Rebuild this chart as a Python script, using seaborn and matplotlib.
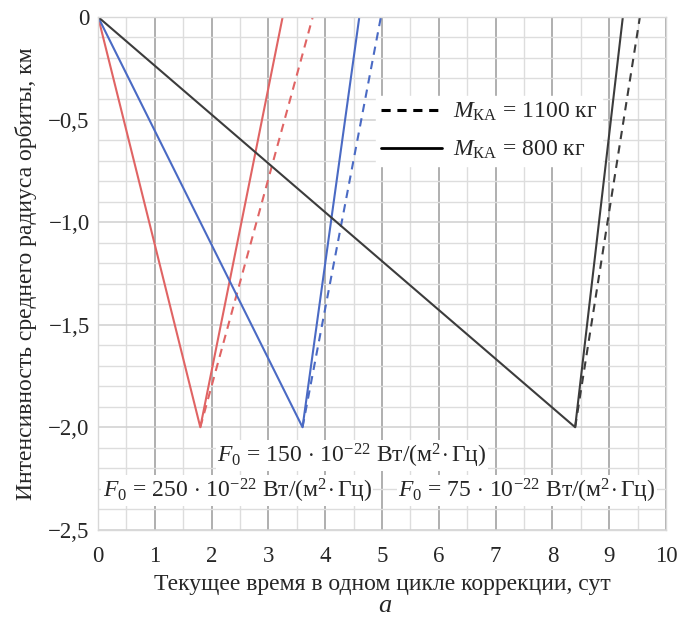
import matplotlib
matplotlib.use("Agg")
import matplotlib.pyplot as plt
import seaborn as sns
import numpy as np
from matplotlib.lines import Line2D
from matplotlib.ticker import MultipleLocator

# ---- data ----
red_solid_x = [0.0, 1.8, 3.25]
red_solid_y = [0.0, -2.0, 0.0]
red_dash_x = [1.8, 3.78]
red_dash_y = [-2.0, 0.0]
blue_solid_x = [0.0, 3.6, 4.6]
blue_solid_y = [0.0, -2.0, 0.0]
blue_dash_x = [3.6, 4.98]
blue_dash_y = [-2.0, 0.0]
black_solid_x = [0.0, 8.4, 9.24]
black_solid_y = [0.0, -2.0, 0.0]
black_dash_x = [8.4, 9.54]
black_dash_y = [-2.0, 0.0]

x_ticks = [0, 1, 2, 3, 4, 5, 6, 7, 8, 9, 10]
y_ticks = [0, -0.5, -1.0, -1.5, -2.0, -2.5]
y_tick_labels = ["0", "\u22120,5", "\u22121,0", "\u22121,5", "\u22122,0", "\u22122,5"]
legend_labels = [r"$M_{\mathrm{КА}}$ = 1100 кг", r"$M_{\mathrm{КА}}$ = 800 кг"]

sns.set_theme(style="white")
plt.rcParams["font.family"] = ["Liberation Serif", "DejaVu Serif"]
plt.rcParams["mathtext.fontset"] = "custom"
plt.rcParams["mathtext.rm"] = "Liberation Serif"
plt.rcParams["mathtext.it"] = "Liberation Serif:italic"
plt.rcParams["mathtext.bf"] = "Liberation Serif:bold"

fig = plt.figure(figsize=(6.81, 6.27), dpi=100)
ax = fig.add_axes([0.144, 0.155, 0.834, 0.818])

RED = "#e06464"
BLUE = "#4a6ac4"
BLACK = "#3c3c3c"
lw = 1.5

sns.lineplot(x=red_solid_x, y=red_solid_y, sort=False, color=RED, lw=lw, ax=ax)
sns.lineplot(x=red_dash_x, y=red_dash_y, sort=False, color=RED, lw=lw, ax=ax, linestyle=(0, (4, 3)))
sns.lineplot(x=blue_solid_x, y=blue_solid_y, sort=False, color=BLUE, lw=lw, ax=ax)
sns.lineplot(x=blue_dash_x, y=blue_dash_y, sort=False, color=BLUE, lw=lw, ax=ax, linestyle=(0, (4, 3)))
sns.lineplot(x=black_solid_x, y=black_solid_y, sort=False, color=BLACK, lw=lw, ax=ax)
sns.lineplot(x=black_dash_x, y=black_dash_y, sort=False, color=BLACK, lw=lw, ax=ax, linestyle=(0, (4, 3)))

ax.set_xlim(0, 10)
ax.set_ylim(-2.5, 0)
ax.set_xticks(x_ticks)
ax.set_xticklabels([str(t) for t in x_ticks])
ax.set_yticks(y_ticks)
ax.set_yticklabels(y_tick_labels)
ax.xaxis.set_minor_locator(MultipleLocator(0.5))
ax.yaxis.set_minor_locator(MultipleLocator(0.1))
ax.grid(which="major", axis="x", color="#9a9a9a", lw=1.1)
ax.grid(which="minor", axis="x", color="#dddddd", lw=1.0)
ax.grid(which="major", axis="y", color="#cfcfcf", lw=1.1)
ax.grid(which="minor", axis="y", color="#dddddd", lw=1.0)
ax.set_axisbelow(True)
ax.tick_params(which="both", length=0, labelsize=16.5, pad=6)
ax.tick_params(axis="x", pad=12)
for s in ax.spines.values():
    s.set_color("#d8d8d8")
    s.set_linewidth(1.0)

ax.set_xlabel("Текущее время в одном цикле коррекции, сут", fontsize=17, labelpad=5)
ax.set_ylabel("Интенсивность среднего радиуса орбиты, км", fontsize=17, labelpad=8)

handles = [Line2D([0], [0], color="black", lw=2.2, linestyle=(0, (3, 2.2))),
           Line2D([0], [0], color="black", lw=2.0)]
leg = ax.legend(handles, legend_labels, loc="upper left", bbox_to_anchor=(0.49, 0.845),
                fontsize=17, frameon=True, fancybox=False, framealpha=1.0,
                edgecolor="white", handlelength=2.6, handletextpad=0.45,
                labelspacing=0.65, borderpad=0.2, borderaxespad=0.0)

box = dict(facecolor="white", edgecolor="none", pad=1.0)
ax.text(4.47, -2.14, r"$F_0$ = 150$\,\cdot\,$10$^{-22}$ Вт/(м$^2\!\cdot$Гц)", ha="center", va="center",
        fontsize=17, bbox=box)
ax.text(2.45, -2.31, r"$F_0$ = 250$\,\cdot\,$10$^{-22}$ Вт/(м$^2\!\cdot$Гц)", ha="center", va="center",
        fontsize=17, bbox=box)
ax.text(7.55, -2.31, r"$F_0$ = 75$\,\cdot\,$10$^{-22}$ Вт/(м$^2\!\cdot$Гц)", ha="center", va="center",
        fontsize=17, bbox=box)

fig.text(0.565, 0.033, "а", ha="center", va="center", fontsize=19, style="italic")

fig.savefig("out.png", dpi=100)
